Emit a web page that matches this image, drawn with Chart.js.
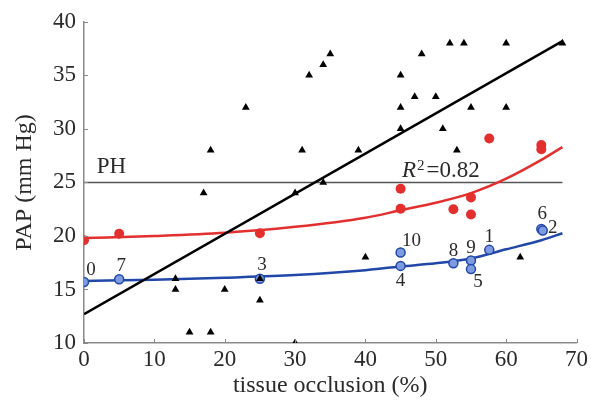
<!DOCTYPE html>
<html>
<head>
<meta charset="utf-8">
<script src="https://cdn.jsdelivr.net/npm/chart.js@4.4.0/dist/chart.umd.min.js"></script>
<style>
  html, body { margin: 0; padding: 0; background: #fff; }
  #wrap { width: 591px; height: 403px; }
</style>
</head>
<body>
<div id="wrap"><canvas id="chart"></canvas></div>
<script>
// PAP vs tissue occlusion

// black triangles (whole data set)
const triX = [18, 23, 31, 32, 34, 35, 48, 52, 54, 60, 68, 45, 47, 50, 45, 55, 60, 45, 51, 39, 53,
              17, 30, 34, 13, 13, 20, 25, 25, 15, 18, 30, 40, 62];
const triY = [28, 32, 28, 35, 36, 37, 37, 38, 38, 38, 38, 35, 33, 33, 32, 32, 32, 30, 30, 28, 28,
              24, 24, 25, 16, 15, 15, 16, 14, 11, 11, 10, 18, 18];

// linear fit through triangles
const fitX = [0, 68];
const fitY = [12.7, 38.2];

// red dots and their curve
const redX = [0, 5, 25, 45, 45, 52.5, 55, 55, 57.6, 65, 65];
const redY = [19.6, 20.2, 20.25, 24.4, 22.55, 22.5, 23.6, 22.0, 29.1, 28.5, 28.1];
const redCurveX = [0, 10, 20, 30, 40, 45, 50, 55, 60, 65, 68];
const redCurveY = [19.8, 20.0, 20.3, 20.85, 21.7, 22.4, 23.1, 24.0, 25.35, 27.1, 28.3];

// blue numbered samples and their curve
const blueX = [0, 5, 25, 45, 45, 52.5, 55, 55, 57.6, 65, 65.2];
const blueY = [15.7, 15.95, 16.0, 18.45, 17.2, 17.45, 17.7, 16.9, 18.7, 20.65, 20.5];
const blueLabels = ['0', '7', '3', '10', '4', '8', '9', '5', '1', '6', '2'];
const blueCurveX = [0, 10, 20, 30, 40, 45, 50, 55, 60, 65, 68];
const blueCurveY = [15.8, 15.9, 16.1, 16.35, 16.8, 17.15, 17.45, 17.9, 18.75, 19.6, 20.25];

// PH threshold
const phLevel = 25;
const phX = [0, 68];

const xTicks = [0, 10, 20, 30, 40, 50, 60, 70];
const yTicks = [10, 15, 20, 25, 30, 35, 40];

const pts = (xs, ys) => xs.map((x, i) => ({ x: x, y: ys[i] }));

// where each blue number sits relative to its dot (px)
const labelOffset = {
  '0': [7, -12], '7': [2, -13], '3': [2, -14], '10': [11, -12], '4': [0, 15],
  '8': [0, -12], '9': [0, -13], '5': [7, 13], '1': [0, -13], '6': [1, -15], '2': [10, -3]
};

const SERIF = "'Liberation Serif', 'DejaVu Serif', serif";
const AXIS_GREY = '#8a8a8a';
const TEXT = '#2a2a2a';

const annotatePlugin = {
  id: 'annotate',
  afterDatasetsDraw(chart) {
    const { ctx, scales: { x, y } } = chart;
    ctx.save();

    // inward tick marks
    ctx.strokeStyle = AXIS_GREY;
    ctx.lineWidth = 1;
    const bottom = y.getPixelForValue(y.min);
    const left = x.getPixelForValue(x.min);
    xTicks.forEach(v => {
      const px = Math.round(x.getPixelForValue(v)) + 0.5;
      ctx.beginPath(); ctx.moveTo(px, bottom); ctx.lineTo(px, bottom - 4); ctx.stroke();
    });
    yTicks.forEach(v => {
      const py = Math.round(y.getPixelForValue(v)) + 0.5;
      ctx.beginPath(); ctx.moveTo(left, py); ctx.lineTo(left + 4, py); ctx.stroke();
    });

    // numbers next to blue dots
    ctx.fillStyle = TEXT;
    ctx.font = '19px ' + SERIF;
    ctx.textAlign = 'center';
    ctx.textBaseline = 'middle';
    blueLabels.forEach((lab, i) => {
      const off = labelOffset[lab];
      ctx.fillText(lab, x.getPixelForValue(blueX[i]) + off[0], y.getPixelForValue(blueY[i]) + off[1]);
    });

    // PH and R^2 text
    ctx.textAlign = 'left';
    ctx.textBaseline = 'alphabetic';
    ctx.font = '23px ' + SERIF;
    ctx.fillText('PH', x.getPixelForValue(1.8), y.getPixelForValue(phLevel) - 9);

    let tx = x.getPixelForValue(45.2);
    const ty = y.getPixelForValue(phLevel) - 5;
    ctx.font = 'italic 23px ' + SERIF;
    ctx.fillText('R', tx, ty);
    tx += ctx.measureText('R').width + 1;
    ctx.font = '15px ' + SERIF;
    ctx.fillText('2', tx, ty - 7);
    tx += ctx.measureText('2').width + 2;
    ctx.font = '23px ' + SERIF;
    ctx.fillText('=0.82', tx, ty);

    ctx.restore();
  }
};

new Chart(document.getElementById('chart'), {
  type: 'scatter',
  data: {
    datasets: [
      {
        label: 'triangles',
        data: pts(triX, triY),
        pointStyle: 'triangle',
        pointRadius: 4.5,
        backgroundColor: '#000',
        borderColor: '#000',
        borderWidth: 0,
        order: 0
      },
      {
        label: 'red',
        data: pts(redX, redY),
        pointRadius: 5,
        backgroundColor: '#e3302f',
        borderColor: '#e3302f',
        borderWidth: 0,
        order: 0
      },
      {
        label: 'blue',
        data: pts(blueX, blueY),
        pointRadius: 4.5,
        backgroundColor: '#7f9be0',
        borderColor: '#2148a8',
        borderWidth: 1.5,
        order: 0
      },
      {
        label: 'PH',
        data: pts(phX, phX.map(() => phLevel)),
        showLine: true,
        pointRadius: 0,
        borderColor: '#555',
        borderWidth: 1.5,
        order: 2
      },
      {
        label: 'linear fit',
        data: pts(fitX, fitY),
        showLine: true,
        pointRadius: 0,
        borderColor: '#000',
        borderWidth: 2.5,
        order: 1
      },
      {
        label: 'red fit',
        data: pts(redCurveX, redCurveY),
        showLine: true,
        pointRadius: 0,
        borderColor: '#e3302f',
        borderWidth: 2.5,
        cubicInterpolationMode: 'monotone',
        order: 1
      },
      {
        label: 'blue fit',
        data: pts(blueCurveX, blueCurveY),
        showLine: true,
        pointRadius: 0,
        borderColor: '#2148a8',
        borderWidth: 2.5,
        cubicInterpolationMode: 'monotone',
        order: 1
      }
    ]
  },
  options: {
    responsive: true,
    maintainAspectRatio: false,
    animation: false,
    layout: { padding: { left: 10, right: 14, top: 17, bottom: 0 } },
    plugins: {
      legend: { display: false },
      tooltip: { enabled: false }
    },
    scales: {
      x: {
        type: 'linear',
        min: 0,
        max: 70,
        afterBuildTicks: s => { s.ticks = xTicks.map(v => ({ value: v })); },
        afterFit: s => { s.height = 60; },
        ticks: { color: TEXT, font: { family: SERIF, size: 23 }, padding: 3, maxRotation: 0 },
        grid: { display: true, drawOnChartArea: false, drawTicks: false },
        border: { display: true, color: AXIS_GREY, width: 1.5 },
        title: {
          display: true,
          text: 'tissue occlusion (%)',
          color: TEXT,
          font: { family: SERIF, size: 24 },
          padding: { top: 0, bottom: 3 }
        }
      },
      y: {
        type: 'linear',
        min: 10,
        max: 40,
        afterBuildTicks: s => { s.ticks = yTicks.map(v => ({ value: v })); },
        afterFit: s => { s.width = 74; },
        ticks: { color: TEXT, font: { family: SERIF, size: 23 }, padding: 8 },
        grid: { display: true, drawOnChartArea: false, drawTicks: false },
        border: { display: true, color: AXIS_GREY, width: 1.5 },
        title: {
          display: true,
          text: 'PAP (mm Hg)',
          color: TEXT,
          font: { family: SERIF, size: 24 },
          padding: 0
        }
      }
    }
  },
  plugins: [annotatePlugin]
});
</script>
</body>
</html>
